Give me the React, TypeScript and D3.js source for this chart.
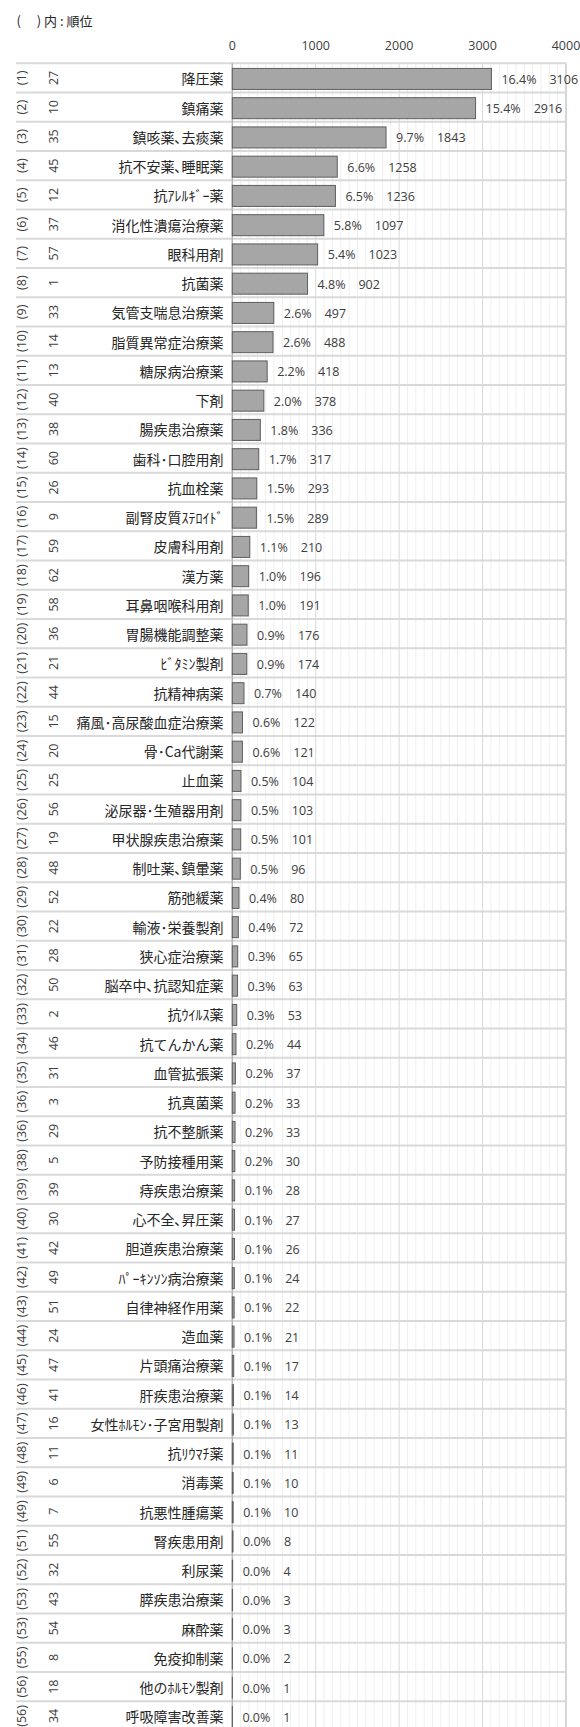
import React from "react";
import * as d3 from "d3";

const ranks = [
  "(1)", "(2)", "(3)", "(4)", "(5)", "(6)", "(7)", "(8)", "(9)", "(10)",
  "(11)", "(12)", "(13)", "(14)", "(15)", "(16)", "(17)", "(18)", "(19)", "(20)",
  "(21)", "(22)", "(23)", "(24)", "(25)", "(26)", "(27)", "(28)", "(29)", "(30)",
  "(31)", "(32)", "(33)", "(34)", "(35)", "(36)", "(36)", "(38)", "(39)", "(40)",
  "(41)", "(42)", "(43)", "(44)", "(45)", "(46)", "(47)", "(48)", "(49)", "(49)",
  "(51)", "(52)", "(53)", "(53)", "(55)", "(56)", "(56)",
];

const codes = [
  27, 10, 35, 45, 12, 37, 57, 1, 33, 14,
  13, 40, 38, 60, 26, 9, 59, 62, 58, 36,
  21, 44, 15, 20, 25, 56, 19, 48, 52, 22,
  28, 50, 2, 46, 31, 3, 29, 5, 39, 30,
  42, 49, 51, 24, 47, 41, 16, 11, 6, 7,
  55, 32, 43, 54, 8, 18, 34,
];

const names = [
  "降圧薬", "鎮痛薬", "鎮咳薬､去痰薬", "抗不安薬､睡眠薬", "抗ｱﾚﾙｷﾞｰ薬",
  "消化性潰瘍治療薬", "眼科用剤", "抗菌薬", "気管支喘息治療薬", "脂質異常症治療薬",
  "糖尿病治療薬", "下剤", "腸疾患治療薬", "歯科･口腔用剤", "抗血栓薬",
  "副腎皮質ｽﾃﾛｲﾄﾞ", "皮膚科用剤", "漢方薬", "耳鼻咽喉科用剤", "胃腸機能調整薬",
  "ﾋﾞﾀﾐﾝ製剤", "抗精神病薬", "痛風･高尿酸血症治療薬", "骨･Ca代謝薬", "止血薬",
  "泌尿器･生殖器用剤", "甲状腺疾患治療薬", "制吐薬､鎮暈薬", "筋弛緩薬", "輸液･栄養製剤",
  "狭心症治療薬", "脳卒中､抗認知症薬", "抗ｳｲﾙｽ薬", "抗てんかん薬", "血管拡張薬",
  "抗真菌薬", "抗不整脈薬", "予防接種用薬", "痔疾患治療薬", "心不全､昇圧薬",
  "胆道疾患治療薬", "ﾊﾟｰｷﾝｿﾝ病治療薬", "自律神経作用薬", "造血薬", "片頭痛治療薬",
  "肝疾患治療薬", "女性ﾎﾙﾓﾝ･子宮用製剤", "抗ﾘｳﾏﾁ薬", "消毒薬", "抗悪性腫瘍薬",
  "腎疾患用剤", "利尿薬", "膵疾患治療薬", "麻酔薬", "免疫抑制薬",
  "他のﾎﾙﾓﾝ製剤", "呼吸障害改善薬",
];

const values = [
  3106, 2916, 1843, 1258, 1236, 1097, 1023, 902, 497, 488,
  418, 378, 336, 317, 293, 289, 210, 196, 191, 176,
  174, 140, 122, 121, 104, 103, 101, 96, 80, 72,
  65, 63, 53, 44, 37, 33, 33, 30, 28, 27,
  26, 24, 22, 21, 17, 14, 13, 11, 10, 10,
  8, 4, 3, 3, 2, 1, 1,
];

const shares = [
  16.4, 15.4, 9.7, 6.6, 6.5, 5.8, 5.4, 4.8, 2.6, 2.6,
  2.2, 2.0, 1.8, 1.7, 1.5, 1.5, 1.1, 1.0, 1.0, 0.9,
  0.9, 0.7, 0.6, 0.6, 0.5, 0.5, 0.5, 0.5, 0.4, 0.4,
  0.3, 0.3, 0.3, 0.2, 0.2, 0.2, 0.2, 0.2, 0.1, 0.1,
  0.1, 0.1, 0.1, 0.1, 0.1, 0.1, 0.1, 0.1, 0.1, 0.1,
  0.0, 0.0, 0.0, 0.0, 0.0, 0.0, 0.0,
];

const xTicks = [0, 1000, 2000, 3000, 4000];
const titleText = "(　 ) 内 : 順位";

const NUM_FONT = "'Open Sans', 'Liberation Sans', sans-serif";
const JP_FONT = "'Noto Sans CJK JP', 'Noto Sans', sans-serif";

export default function App() {
  const W = 580;
  const H = 1727;
  const top = 63.3;
  const rowH = 29.25;
  const n = names.length;

  const x = d3.scaleLinear().domain([0, 4000]).range([232.3, 566]);
  const y = d3
    .scaleBand<number>()
    .domain(d3.range(n))
    .range([top, top + rowH * n])
    .padding(0);
  const bottom = top + rowH * n;

  const minor = d3.range(100, 4000, 100).filter((v) => v % 1000 !== 0);
  const major = [1000, 2000, 3000];
  const barH = 21;

  return (
    <div style={{ position: "absolute", left: 0, top: 0, width: W, height: H, overflow: "hidden" }}>
      <svg width={W} height={H} style={{ display: "block", background: "#fff" }}>
        <text x={16.5} y={20} fontFamily={JP_FONT} fontSize={13} fill="#262626" dominantBaseline="central">
          {titleText}
        </text>

        {xTicks.map((t) => (
          <text
            key={"t" + t}
            x={x(t)}
            y={45.7}
            textAnchor="middle"
            dominantBaseline="central"
            fontFamily={NUM_FONT}
            fontSize={12.5}
            fill="#404040"
          >
            {t}
          </text>
        ))}

        {minor.map((v) => (
          <line key={"m" + v} x1={x(v)} x2={x(v)} y1={top} y2={bottom} stroke="#efefef" strokeWidth={1} />
        ))}
        {major.map((v) => (
          <line key={"M" + v} x1={x(v)} x2={x(v)} y1={top} y2={bottom} stroke="#d9d9d9" strokeWidth={1} />
        ))}
        <line x1={x(4000)} x2={x(4000)} y1={top} y2={bottom} stroke="#c8c8c8" strokeWidth={1.5} />

        {d3.range(n + 1).map((i) => (
          <line
            key={"r" + i}
            x1={16}
            x2={x(4000)}
            y1={top + rowH * i}
            y2={top + rowH * i}
            stroke="#d9d9d9"
            strokeWidth={2}
          />
        ))}

        <line x1={x(0)} x2={x(0)} y1={top} y2={bottom} stroke="#b4b4b4" strokeWidth={1.5} />

        {values.map((v, i) => {
          const y0 = (y(i) as number);
          const cy = y0 + rowH / 2 + 1;
          return (
            <g key={"b" + i}>
              <rect
                x={x(0)}
                y={cy - barH / 2}
                width={Math.max(0, x(v) - x(0))}
                height={barH}
                fill="#a6a6a6"
                stroke="#5e5e5e"
                strokeWidth={1}
              />
              <text
                x={x(v) + 10}
                y={cy}
                dominantBaseline="central"
                fontFamily={NUM_FONT}
                fontSize={12.5}
                fill="#404040"
              >
                <tspan>{shares[i].toFixed(1) + "%"}</tspan>
                <tspan dx={13}>{String(v)}</tspan>
              </text>
              <text
                x={223.5}
                y={cy - 0.5}
                textAnchor="end"
                dominantBaseline="central"
                fontFamily={JP_FONT}
                fontSize={14}
                fill="#262626"
              >
                {names[i]}
              </text>
              <text
                transform={`translate(21,${y0 + rowH / 2}) rotate(-90)`}
                textAnchor="middle"
                dominantBaseline="central"
                fontFamily={NUM_FONT}
                fontSize={12.5}
                fill="#404040"
              >
                {ranks[i]}
              </text>
              <text
                transform={`translate(53,${y0 + rowH / 2}) rotate(-90)`}
                textAnchor="middle"
                dominantBaseline="central"
                fontFamily={NUM_FONT}
                fontSize={12.5}
                fill="#404040"
              >
                {String(codes[i])}
              </text>
            </g>
          );
        })}
      </svg>
    </div>
  );
}
